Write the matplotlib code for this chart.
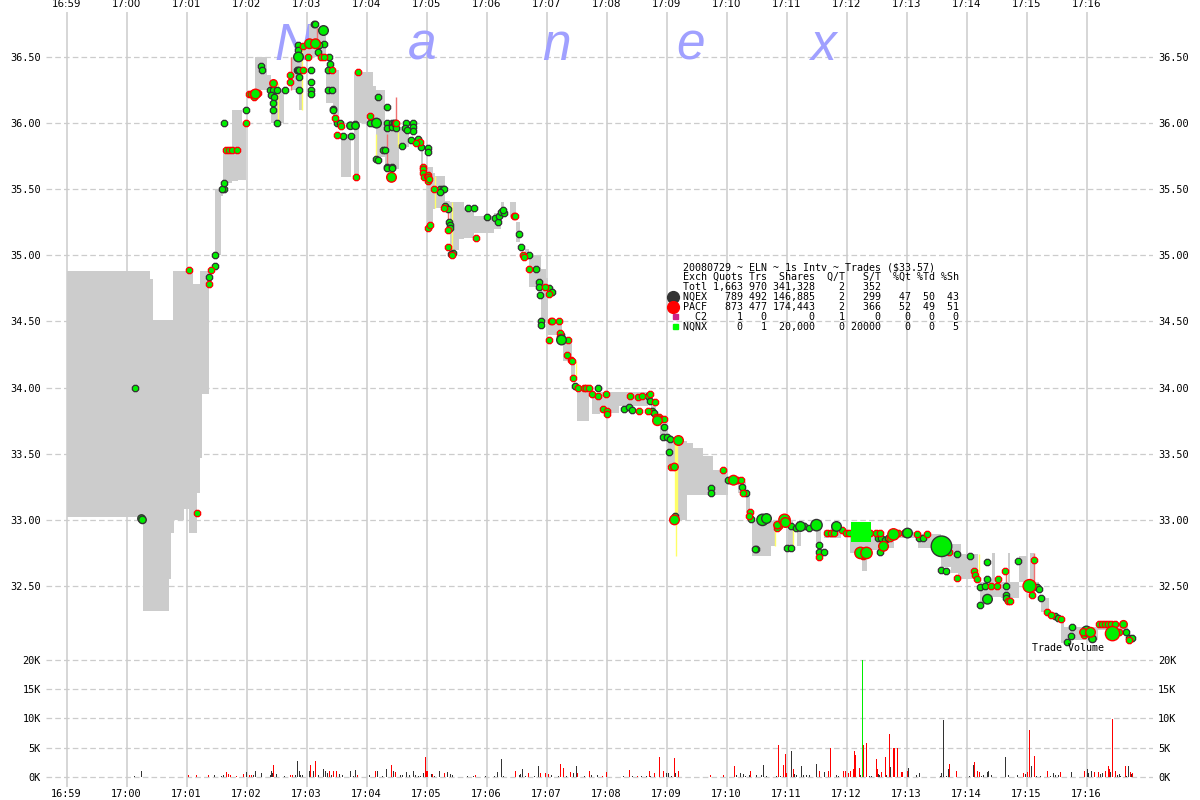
import matplotlib
matplotlib.use("Agg")
import matplotlib.pyplot as plt

W, H = 1200, 800
TICK_FONT = "DejaVu Sans Mono"

minute_labels = ["16:59", "17:00", "17:01", "17:02", "17:03", "17:04", "17:05", "17:06", "17:07",
                 "17:08", "17:09", "17:10", "17:11", "17:12", "17:13", "17:14", "17:15", "17:16"]
price_ticks = [32.5, 33.0, 33.5, 34.0, 34.5, 35.0, 35.5, 36.0, 36.5]
volume_ticks = [0, 5, 10, 15, 20]

# bid/ask band, times are seconds after 16:59
band_start = [0, 76, 83, 86, 102, 104, 106, 107, 117, 122, 126, 130, 133, 135, 148, 154, 156, 165, 171, 175,
              188, 200, 204, 224, 232, 235, 242, 250, 259, 266, 274, 287, 287, 306, 309, 318, 325, 332, 354,
              360, 366, 368, 378, 383, 392, 397, 407, 427, 434, 443, 449, 458, 462, 474, 479, 479, 496, 504,
              510, 525, 533, 552, 584, 593, 600, 609, 620, 626, 636, 646, 661, 671, 679, 685, 704, 719, 730,
              749, 757, 764, 783, 795, 802, 812, 827, 851, 874, 884, 891, 913, 922, 925, 934, 941, 952, 963,
              967, 974, 994, 994, 1031]
band_end = [76, 83, 86, 102, 104, 106, 107, 117, 122, 126, 130, 133, 135, 142, 154, 156, 165, 171, 175, 179,
            200, 204, 217, 232, 235, 242, 250, 259, 266, 272, 284, 306, 292, 309, 318, 325, 332, 342, 356,
            366, 368, 378, 383, 392, 397, 407, 427, 434, 437, 449, 453, 462, 474, 479, 495, 481, 505, 508,
            522, 533, 552, 581, 589, 601, 609, 620, 626, 636, 646, 661, 671, 679, 683, 704, 708, 726, 734,
            754, 774, 771, 802, 800, 812, 827, 851, 874, 886, 894, 911, 922, 934, 928, 952, 943, 960, 967,
            972, 982, 997, 1031, 1061]
band_low = [33.02, 32.31, 32.31, 32.31, 32.55, 32.90, 32.90, 33.00, 33.08, 32.90, 32.90, 33.20, 33.47, 33.95,
            35.00, 35.45, 35.55, 35.56, 35.57, 35.57, 36.25, 36.25, 36.00, 36.25, 36.10, 36.50, 36.50, 36.50,
            36.15, 36.00, 35.59, 36.00, 35.59, 36.00, 35.74, 35.67, 35.65, 35.82, 35.67, 35.21, 35.35, 35.36,
            35.35, 35.04, 35.12, 35.13, 35.17, 35.20, 35.30, 35.29, 35.10, 34.97, 34.76, 34.50, 34.40, 34.37,
            34.20, 34.08, 33.75, 33.80, 33.81, 33.86, 33.83, 33.63, 33.40, 33.00, 33.19, 33.19, 33.19, 33.19,
            33.26, 33.20, 33.05, 32.73, 32.80, 32.80, 32.80, 32.80, 32.86, 32.90, 32.75, 32.61, 32.77, 32.79,
            32.86, 32.79, 32.64, 32.60, 32.55, 32.37, 32.42, 32.50, 32.41, 32.53, 32.53, 32.50, 32.46, 32.30,
            32.07, 32.09, 32.17]
band_high = [34.88, 34.88, 34.82, 34.51, 34.51, 34.51, 34.88, 34.88, 34.88, 34.88, 34.78, 34.78, 34.88, 34.88,
             35.50, 35.50, 35.81, 36.10, 36.10, 36.00, 36.50, 36.36, 36.25, 36.50, 36.59, 36.60, 36.74, 36.72,
             36.40, 36.40, 35.92, 36.39, 36.00, 36.28, 36.25, 36.00, 35.97, 35.97, 35.82, 35.67, 35.62, 35.60,
             35.41, 35.40, 35.40, 35.36, 35.30, 35.32, 35.40, 35.40, 35.25, 35.05, 35.00, 34.90, 34.50, 34.83,
             34.36, 34.20, 33.99, 33.95, 33.97, 33.97, 33.90, 33.72, 33.63, 33.60, 33.58, 33.54, 33.48, 33.38,
             33.31, 33.29, 33.20, 32.99, 32.99, 32.99, 32.99, 32.99, 32.92, 32.97, 32.90, 32.75, 32.89, 32.86,
             32.91, 32.89, 32.81, 32.82, 32.74, 32.53, 32.55, 32.75, 32.53, 32.75, 32.73, 32.75, 32.53, 32.41,
             32.25, 32.19, 32.22]

# crossed / locked quote spikes
yellow_t = [211, 235, 309, 331, 368, 385, 509, 609, 708, 726, 912]
yellow_low = [36.00, 36.10, 35.74, 35.82, 35.36, 35.04, 34.08, 32.73, 32.80, 32.80, 32.60]
yellow_high = [36.30, 36.60, 35.92, 35.93, 35.60, 35.40, 34.20, 33.60, 32.94, 32.93, 32.74]
salmon_t = [224, 250, 320, 329, 381, 939, 967]
salmon_low = [36.25, 36.60, 35.67, 36.00, 35.25, 32.50, 32.41]
salmon_high = [36.50, 36.72, 35.92, 36.20, 35.37, 32.61, 32.75]

# trades, small prints
nqex_t = [68, 148, 148, 142, 157, 155, 157, 157, 179, 194, 195, 203, 206, 210, 204, 207, 206, 206, 210, 218,
          231, 231, 231, 230, 231, 232, 232, 232, 244, 244, 244, 244, 247, 248, 257, 252, 251, 262, 263, 261,
          261, 265, 266, 266, 270, 273, 276, 284, 288, 311, 320, 320, 320, 325, 325, 327, 328, 339, 346, 346,
          346, 329, 338, 340, 306, 303, 344, 335, 351, 354, 361, 361, 316, 318, 309, 311, 320, 320, 325, 325,
          373, 376, 377, 373, 378, 381, 382, 383, 383, 386, 384, 401, 407, 420, 428, 431, 432, 434, 437, 436,
          452, 454, 462, 469, 472, 472, 473, 482, 485, 474, 474, 494, 508, 531, 557, 562, 565, 581, 583, 585,
          587, 597, 596, 600, 603, 602, 608, 644, 644, 661, 675, 679, 684, 689, 688, 720, 724, 724, 729, 737,
          742, 752, 752, 757, 811, 814, 818, 821, 813, 852, 856, 890, 903, 920, 951, 874, 879, 913, 918, 920,
          939, 939, 939, 913, 960, 970, 972, 974, 988, 991, 1000, 1004, 1005, 1059, 1062, 1065]
nqex_p = [34.00, 35.00, 34.92, 34.84, 35.50, 35.50, 35.55, 36.00, 36.10, 36.43, 36.40, 36.25, 36.25, 36.25,
          36.21, 36.20, 36.15, 36.10, 36.00, 36.25, 36.50, 36.59, 36.55, 36.40, 36.40, 36.40, 36.35, 36.25,
          36.40, 36.31, 36.25, 36.22, 36.75, 36.75, 36.60, 36.59, 36.54, 36.50, 36.45, 36.40, 36.25, 36.25,
          36.11, 36.10, 36.00, 36.00, 35.90, 35.90, 35.99, 36.20, 36.12, 36.00, 35.96, 36.00, 35.97, 36.00,
          36.00, 36.00, 36.00, 35.97, 35.94, 35.96, 35.96, 35.95, 36.00, 36.00, 35.87, 35.83, 35.88, 35.82,
          35.81, 35.78, 35.80, 35.80, 35.73, 35.72, 35.67, 35.66, 35.67, 35.66, 35.50, 35.50, 35.50, 35.48,
          35.37, 35.35, 35.25, 35.23, 35.21, 35.02, 35.01, 35.36, 35.36, 35.29, 35.28, 35.25, 35.30, 35.33,
          35.32, 35.34, 35.16, 35.06, 35.00, 34.90, 34.80, 34.76, 34.70, 34.75, 34.72, 34.50, 34.47, 34.40,
          34.01, 34.00, 33.84, 33.85, 33.83, 33.94, 33.90, 33.82, 33.81, 33.70, 33.63, 33.63, 33.61, 33.51,
          33.03, 33.24, 33.20, 33.30, 33.25, 33.20, 33.01, 32.78, 32.78, 32.79, 32.79, 32.95, 32.94, 32.95,
          32.94, 32.81, 32.76, 32.76, 32.86, 32.86, 32.85, 32.86, 32.76, 32.86, 32.86, 32.74, 32.73, 32.68,
          32.69, 32.62, 32.61, 32.49, 32.50, 32.55, 32.50, 32.43, 32.41, 32.36, 32.50, 32.49, 32.48, 32.41,
          32.27, 32.26, 32.08, 32.12, 32.19, 32.15, 32.11, 32.11]
pacf_t = [122, 144, 142, 130, 159, 162, 165, 170, 179, 182, 184, 186, 187, 191, 223, 223, 236, 236, 241, 254,
          257, 265, 268, 274, 270, 289, 291, 303, 329, 353, 349, 356, 356, 356, 357, 360, 361, 361, 361, 362,
          367, 361, 363, 377, 381, 381, 385, 409, 447, 448, 456, 457, 462, 478, 482, 484, 485, 492, 482, 493,
          493, 501, 500, 504, 505, 506, 511, 517, 519, 522, 525, 531, 539, 536, 540, 540, 563, 571, 575, 583,
          588, 572, 581, 589, 592, 594, 597, 604, 656, 670, 674, 676, 683, 682, 712, 710, 752, 760, 764, 767,
          775, 779, 782, 803, 809, 813, 796, 823, 831, 837, 850, 860, 882, 967, 890, 907, 908, 910, 924, 930,
          931, 938, 941, 943, 965, 980, 984, 994, 1017, 1032, 1035, 1038, 1041, 1044, 1048, 1052, 1062]
pacf_p = [34.89, 34.89, 34.78, 33.05, 35.80, 35.80, 35.80, 35.80, 36.00, 36.22, 36.22, 36.23, 36.20, 36.23,
          36.31, 36.36, 36.58, 36.40, 36.50, 36.50, 36.50, 36.40, 36.04, 35.98, 35.91, 35.59, 36.39, 36.05,
          36.00, 35.86, 35.85, 35.67, 35.65, 35.62, 35.59, 35.60, 35.61, 35.59, 35.56, 35.58, 35.50, 35.21,
          35.23, 35.36, 35.19, 35.06, 35.00, 35.13, 35.30, 35.30, 35.00, 34.99, 34.90, 34.76, 34.71, 34.50,
          34.50, 34.50, 34.36, 34.41, 34.38, 34.36, 34.25, 34.21, 34.20, 34.07, 34.00, 34.00, 34.00, 34.00,
          33.95, 33.94, 33.95, 33.84, 33.82, 33.80, 33.94, 33.93, 33.94, 33.95, 33.89, 33.82, 33.82, 33.78,
          33.78, 33.76, 33.76, 33.40, 33.38, 33.30, 33.30, 33.20, 33.06, 33.03, 32.95, 32.94, 32.72, 32.90,
          32.90, 32.90, 32.92, 32.90, 32.90, 32.90, 32.90, 32.90, 32.73, 32.86, 32.90, 32.90, 32.89, 32.89,
          32.76, 32.70, 32.56, 32.61, 32.58, 32.55, 32.50, 32.50, 32.55, 32.61, 32.39, 32.39, 32.43, 32.30,
          32.28, 32.25, 32.13, 32.21, 32.21, 32.21, 32.21, 32.21, 32.21, 32.15, 32.09]

# larger prints, marker area follows the shares
nqex_big_t = [75, 76, 232, 257, 284, 289, 310, 495, 696, 700, 734, 750, 770, 841, 875, 921, 1020, 1026]
nqex_big_p = [33.01, 33.00, 36.50, 36.70, 35.98, 35.98, 36.00, 34.36, 33.00, 33.01, 32.95, 32.96, 32.95, 32.90,
              32.80, 32.40, 32.16, 32.10]
nqex_big_shares = [1, 1, 2, 2, 1, 1, 2, 2, 3, 2, 2, 3, 2, 2, 11, 2, 2, 1]
pacf_big_t = [189, 207, 243, 249, 325, 591, 612, 608, 608, 667, 711, 718, 719, 794, 800, 817, 827, 963, 1017,
              1024, 1046, 1057]
pacf_big_p = [36.22, 36.30, 36.60, 36.60, 35.59, 33.75, 33.60, 33.40, 33.00, 33.30, 32.96, 33.00, 32.98, 32.75,
              32.75, 32.80, 32.89, 32.50, 32.15, 32.15, 32.14, 32.21]
pacf_big_shares = [2, 1, 2, 2, 2, 2, 2, 1, 2, 2, 1, 3, 2, 3, 3, 2, 3, 4, 1, 2, 5, 1]
nqnx_t = [794]
nqnx_p = [32.91]

# volume, thousands of shares per second
nqex_vol_t = [68, 75, 148, 155, 157, 180, 187, 189, 195, 204, 205, 206, 210, 218, 229, 231, 233, 234, 236, 243,
              247, 252, 257, 259, 261, 265, 273, 276, 284, 287, 289, 303, 311, 316, 320, 327, 334, 336, 340,
              343, 347, 349, 352, 354, 357, 365, 368, 373, 381, 384, 386, 401, 407, 419, 428, 431, 435, 437,
              453, 454, 456, 459, 468, 472, 485, 492, 500, 507, 510, 518, 525, 531, 557, 566, 575, 580, 584,
              600, 602, 605, 609, 670, 674, 677, 679, 683, 690, 695, 697, 700, 710, 714, 725, 728, 730, 735,
              737, 740, 743, 750, 758, 770, 772, 794, 803, 805, 812, 813, 820, 824, 842, 850, 853, 874, 875,
              877, 880, 882, 903, 907, 915, 917, 921, 922, 925, 939, 942, 951, 959, 965, 970, 974, 984, 987,
              989, 992, 1005, 1021, 1022, 1025, 1034, 1036, 1044, 1051, 1053, 1054, 1060, 1062, 1065]
nqex_vol_k = [0.2, 1.0, 0.4, 0.2, 0.3, 0.8, 0.3, 1.0, 0.6, 0.3, 1.0, 0.7, 0.5, 0.2, 0.3, 2.7, 1.1, 0.4, 0.4, 1.0,
              1.0, 0.4, 1.3, 1.1, 0.7, 0.4, 0.5, 0.4, 1.0, 0.2, 1.2, 0.3, 1.0, 0.2, 1.3, 1.1, 0.3, 0.3, 0.8,
              0.3, 1.0, 0.3, 0.2, 0.2, 0.6, 0.5, 0.2, 1.0, 0.8, 0.5, 0.3, 0.2, 0.2, 0.2, 0.2, 0.8, 3.1, 0.2,
              0.4, 0.5, 1.4, 0.2, 0.2, 1.8, 0.3, 0.2, 0.2, 0.6, 1.8, 0.2, 0.4, 0.3, 0.2, 0.2, 0.2, 0.2, 0.2,
              0.6, 0.7, 0.2, 0.6, 0.4, 0.7, 0.5, 0.2, 0.4, 0.4, 0.4, 2.0, 0.2, 0.2, 0.2, 4.4, 0.5, 0.3, 1.9,
              0.3, 0.4, 0.4, 2.3, 0.8, 0.4, 0.2, 0.3, 0.2, 0.2, 0.5, 0.4, 0.4, 1.7, 1.6, 0.4, 0.6, 0.2, 0.7,
              9.7, 0.2, 1.3, 0.1, 2.0, 0.2, 0.3, 0.8, 1.1, 0.4, 3.4, 0.4, 0.3, 0.5, 1.8, 0.2, 0.1, 0.2, 0.7,
              0.4, 0.4, 0.8, 1.4, 0.6, 1.0, 0.5, 0.6, 0.8, 0.3, 0.5, 0.2, 0.2, 1.9, 0.5]
pacf_vol_t = [122, 130, 142, 160, 162, 164, 170, 177, 183, 185, 207, 224, 226, 244, 249, 263, 267, 270, 291, 309,
              325, 329, 359, 360, 361, 366, 378, 409, 449, 462, 474, 479, 482, 494, 497, 504, 511, 523, 536, 540,
              563, 571, 583, 588, 593, 597, 608, 612, 644, 657, 668, 684, 712, 717, 719, 720, 727, 753, 762,
              764, 777, 779, 782, 784, 787, 788, 789, 793, 797, 800, 810, 811, 815, 819, 823, 827, 828, 831,
              835, 836, 841, 883, 890, 908, 911, 913, 957, 961, 963, 968, 981, 994, 1018, 1028, 1032, 1039,
              1042, 1043, 1046, 1049, 1059, 1064, 1066]
pacf_vol_k = [0.3, 0.3, 0.4, 0.8, 0.5, 0.4, 0.2, 0.5, 0.4, 0.3, 2.0, 0.4, 0.4, 2.1, 2.7, 1.0, 1.0, 1.0, 0.3, 1.0,
              2.0, 0.8, 3.4, 1.1, 1.1, 0.5, 0.7, 0.4, 1.0, 0.6, 0.6, 0.6, 0.5, 2.3, 1.6, 0.9, 0.6, 1.0, 0.2, 0.9,
              1.2, 0.2, 1.0, 0.7, 3.5, 1.0, 3.2, 1.0, 0.4, 0.4, 1.9, 1.0, 5.4, 2.1, 3.9, 0.7, 1.3, 1.0, 1.0,
              4.9, 1.1, 1.0, 0.7, 1.1, 1.3, 4.5, 3.7, 1.6, 5.4, 5.8, 3.0, 1.4, 0.9, 3.4, 7.4, 4.9, 4.9, 4.9,
              0.8, 0.8, 1.0, 2.2, 1.1, 2.6, 1.0, 0.8, 0.6, 0.9, 8.0, 3.6, 1.0, 0.8, 1.1, 0.8, 0.8, 1.1,
              1.9, 1.4, 9.9, 1.1, 1.9, 0.8, 0.7]
nqnx_vol_t = [796]
nqnx_vol_k = [20.0]

legend_title = "20080729 ~ ELN ~ 1s Intv ~ Trades ($33.57)"
legend_rows = ["Exch Quots Trs  Shares  Q/T   S/T  %Qt %Td %Sh",
               "Totl 1,663 970 341,328    2   352",
               "NQEX   789 492 146,885    2   299   47  50  43",
               "PACF   873 477 174,443    2   366   52  49  51",
               "  C2     1   0       0    1     0    0   0   0",
               "NQNX     0   1  20,000    0 20000    0   0   5"]
watermark = "Nanex"


def fx(px):
    return px / W


def fy(py):
    return 1 - py / H


def style_axes(ax, yticks, ylabels):
    for side in ax.spines:
        ax.spines[side].set_visible(False)
    ax.patch.set_visible(False)
    ax.set_xlim(-20.5, 1086.5)
    ax.set_xticks(range(0, 1021, 60))
    ax.set_xticklabels(minute_labels)
    ax.set_yticks(yticks)
    ax.set_yticklabels(ylabels)
    ax.set_axisbelow(True)
    ax.grid(axis="x", color="#cccccc", linewidth=1.1)
    ax.grid(axis="y", color="#cccccc", linewidth=0.9, linestyle=(0, (4.5, 2.5)))
    ax.tick_params(length=0, labelsize=7.4, pad=3.6, labelleft=True, labelright=True)
    for lab in ax.get_xticklabels() + ax.get_yticklabels():
        lab.set_family(TICK_FONT)


def marker_area(shares):
    return [19 * n + 10 for n in shares]


fig = plt.figure(figsize=(W / 100, H / 100), dpi=100)
ax = fig.add_axes([fx(46), fy(650), fx(1153 - 46), (650 - 12) / H], zorder=2)
vol_ax = fig.add_axes([fx(46), fy(787), fx(1153 - 46), (787 - 650) / H], zorder=1)

# main panel
ax.set_ylim(32.016, 36.84)
style_axes(ax, price_ticks, ["%.2f" % p for p in price_ticks])
ax.tick_params(axis="x", labelbottom=False, labeltop=True, pad=2.5)

widths = [e - s for s, e in zip(band_start, band_end)]
heights = [h - l for l, h in zip(band_low, band_high)]
ax.bar(band_start, heights, width=widths, bottom=band_low, align="edge", color="#cccccc", linewidth=0, zorder=2)
ax.vlines(yellow_t, yellow_low, yellow_high, color="#ffff66", linewidth=1.0, zorder=3)
ax.vlines([609], [33.00], [33.58], color="#ffff66", linewidth=2.4, zorder=3)
ax.vlines(salmon_t, salmon_low, salmon_high, color="#f07070", linewidth=1.0, zorder=3)

for i, letter in enumerate(watermark):
    ax.text(fx(274 + 134 * i), fy(60), letter, transform=fig.transFigure, fontsize=37, style="italic",
            family="Liberation Sans", color="#a0a0ff", zorder=1)

GREEN = "#00ee00"
small = 24
ax.scatter(nqex_t, nqex_p, s=small, marker="8", c=GREEN, edgecolors="#333333", linewidths=0.9, zorder=5)
ax.scatter(pacf_t, pacf_p, s=small, marker="8", c=GREEN, edgecolors="#ff0000", linewidths=0.9, zorder=5)
ax.scatter(nqex_big_t, nqex_big_p, s=marker_area(nqex_big_shares), marker="o", c=GREEN,
           edgecolors="#333333", linewidths=1.0, zorder=6)
ax.scatter(pacf_big_t, pacf_big_p, s=marker_area(pacf_big_shares), marker="o", c=GREEN,
           edgecolors="#ff0000", linewidths=1.0, zorder=6)
ax.scatter(nqnx_t, nqnx_p, s=190, marker="s", c="#00ff00", linewidths=0, zorder=7)

# legend table is plain monospaced text
ax.text(fx(683), fy(267), legend_title, transform=fig.transFigure, family=TICK_FONT, fontsize=7.2,
        va="center", zorder=8)
for i, row in enumerate(legend_rows):
    ax.text(fx(683), fy(277 + 10 * i), row, transform=fig.transFigure, family=TICK_FONT, fontsize=7.2,
            va="center", zorder=8)
ax.plot([fx(673)], [fy(297)], "o", ms=8.5, color="#333333", transform=fig.transFigure, clip_on=False, zorder=8)
ax.plot([fx(673)], [fy(307)], "o", ms=8.5, color="#ff0000", transform=fig.transFigure, clip_on=False, zorder=8)
ax.plot([fx(675)], [fy(316)], "s", ms=3.6, color="#cc2288", transform=fig.transFigure, clip_on=False, zorder=8)
ax.plot([fx(675)], [fy(326)], "s", ms=3.6, color="#00ff00", transform=fig.transFigure, clip_on=False, zorder=8)
ax.text(fx(1032), fy(648), "Trade Volume", transform=fig.transFigure, family=TICK_FONT, fontsize=7.2,
        va="center", zorder=8)

# volume panel
vol_ax.set_ylim(-1.71, 21.7)
style_axes(vol_ax, volume_ticks, ["%dK" % v for v in volume_ticks])
vol_ax.tick_params(axis="x", labelbottom=True, pad=1.5)
vol_ax.bar(pacf_vol_t, pacf_vol_k, width=1.2, color="#ff0000", linewidth=0, zorder=3)
vol_ax.bar(nqex_vol_t, nqex_vol_k, width=1.0, color="#333333", linewidth=0, zorder=4)
vol_ax.bar(nqnx_vol_t, nqnx_vol_k, width=1.0, color="#00ee00", linewidth=0, zorder=5)

fig.savefig("out.png", dpi=100)
